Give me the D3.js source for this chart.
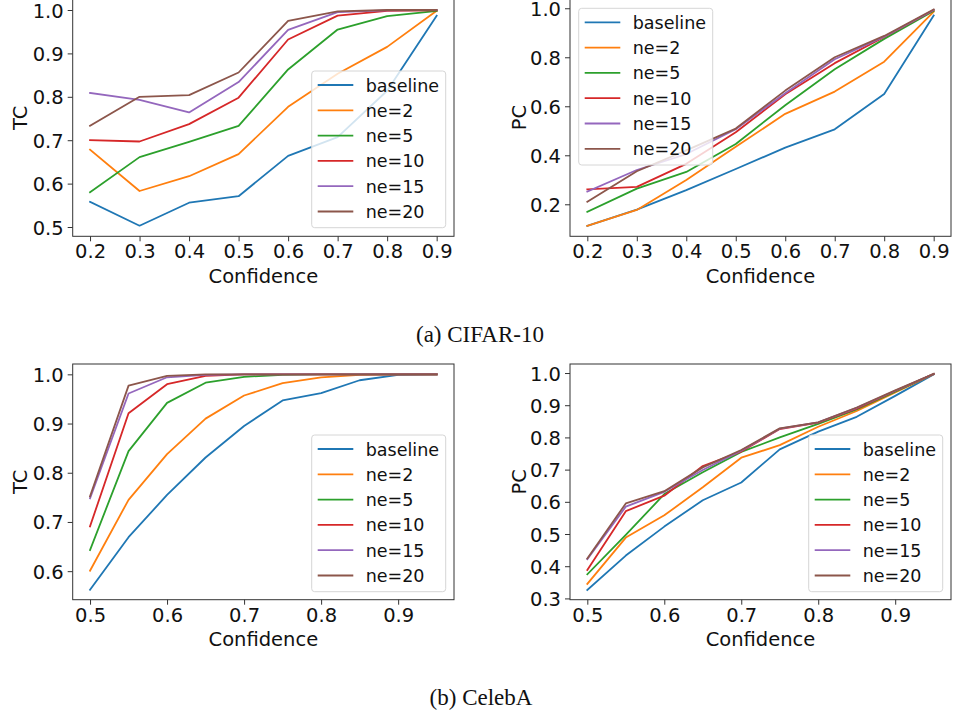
<!DOCTYPE html>
<html>
<head>
<meta charset="utf-8">
<script src="https://cdn.jsdelivr.net/npm/d3@7"></script>
<style>
  html, body { margin: 0; padding: 0; background: #fff; }
  svg { display: block; }
</style>
</head>
<body>
<svg id="fig" width="953" height="717"></svg>
<script>
// ---------------- DATA ----------------
const seriesNames = ["baseline", "ne=2", "ne=5", "ne=10", "ne=15", "ne=20"];
const seriesColors = ["#1f77b4", "#ff7f0e", "#2ca02c", "#d62728", "#9467bd", "#8c564b"];

const xCifar = [0.2, 0.3, 0.4, 0.5, 0.6, 0.7, 0.8, 0.9];
const xCeleb = [0.5, 0.55, 0.6, 0.65, 0.7, 0.75, 0.8, 0.85, 0.9, 0.95];

// CIFAR-10, TC
const cifarTC_baseline = [0.558, 0.503, 0.556, 0.571, 0.664, 0.707, 0.814, 0.987];
const cifarTC_ne2      = [0.678, 0.583, 0.617, 0.668, 0.777, 0.853, 0.915, 0.998];
const cifarTC_ne5      = [0.580, 0.661, 0.696, 0.733, 0.863, 0.955, 0.986, 0.998];
const cifarTC_ne10     = [0.700, 0.697, 0.737, 0.798, 0.932, 0.987, 0.998, 0.999];
const cifarTC_ne15     = [0.809, 0.793, 0.764, 0.834, 0.954, 0.995, 0.999, 1.000];
const cifarTC_ne20     = [0.733, 0.800, 0.804, 0.856, 0.975, 0.997, 1.000, 1.000];

// CIFAR-10, PC
const cifarPC_baseline = [0.112, 0.178, 0.258, 0.344, 0.431, 0.506, 0.650, 0.970];
const cifarPC_ne2      = [0.112, 0.177, 0.299, 0.435, 0.569, 0.660, 0.782, 0.986];
const cifarPC_ne5      = [0.169, 0.264, 0.332, 0.446, 0.604, 0.751, 0.875, 0.989];
const cifarPC_ne10     = [0.261, 0.271, 0.365, 0.494, 0.649, 0.776, 0.883, 0.992];
const cifarPC_ne15     = [0.252, 0.340, 0.405, 0.506, 0.653, 0.792, 0.884, 0.993];
const cifarPC_ne20     = [0.210, 0.335, 0.420, 0.509, 0.664, 0.800, 0.887, 0.995];

// CelebA, TC
const celebTC_baseline = [0.562, 0.669, 0.755, 0.831, 0.895, 0.947, 0.962, 0.988, 0.999, 1.000];
const celebTC_ne2      = [0.601, 0.745, 0.838, 0.910, 0.957, 0.982, 0.994, 0.999, 1.000, 1.000];
const celebTC_ne5      = [0.643, 0.844, 0.942, 0.983, 0.995, 0.999, 1.000, 1.000, 1.000, 1.000];
const celebTC_ne10     = [0.691, 0.921, 0.980, 0.997, 1.000, 1.000, 1.000, 1.000, 1.000, 1.000];
const celebTC_ne15     = [0.748, 0.961, 0.994, 0.999, 1.000, 1.000, 1.000, 1.000, 1.000, 1.000];
const celebTC_ne20     = [0.752, 0.977, 0.997, 1.000, 1.000, 1.000, 1.000, 1.000, 1.000, 1.000];

// CelebA, PC
const celebPC_baseline = [0.326, 0.433, 0.523, 0.605, 0.660, 0.763, 0.818, 0.864, 0.929, 0.996];
const celebPC_ne2      = [0.345, 0.489, 0.558, 0.645, 0.737, 0.776, 0.833, 0.882, 0.940, 0.997];
const celebPC_ne5      = [0.375, 0.497, 0.624, 0.692, 0.755, 0.800, 0.842, 0.887, 0.942, 0.997];
const celebPC_ne10     = [0.388, 0.571, 0.619, 0.711, 0.756, 0.826, 0.846, 0.889, 0.944, 0.997];
const celebPC_ne15     = [0.422, 0.585, 0.631, 0.699, 0.759, 0.827, 0.847, 0.892, 0.945, 0.997];
const celebPC_ne20     = [0.424, 0.595, 0.633, 0.707, 0.761, 0.828, 0.847, 0.893, 0.946, 0.997];

// Tick labels
const xTicksCifar = [0.2, 0.3, 0.4, 0.5, 0.6, 0.7, 0.8, 0.9];
const xTicksCeleb = [0.5, 0.6, 0.7, 0.8, 0.9];
const yTicksCifarTC = [0.5, 0.6, 0.7, 0.8, 0.9, 1.0];
const yTicksCifarPC = [0.2, 0.4, 0.6, 0.8, 1.0];
const yTicksCelebTC = [0.6, 0.7, 0.8, 0.9, 1.0];
const yTicksCelebPC = [0.3, 0.4, 0.5, 0.6, 0.7, 0.8, 0.9, 1.0];

const captions = ["(a) CIFAR-10", "(b) CelebA"];
const xLabel = "Confidence";

// ---------------- LAYOUT ----------------
const FONT = "'DejaVu Sans', sans-serif";
const panels = [
  { x: xCifar, series: [cifarTC_baseline, cifarTC_ne2, cifarTC_ne5, cifarTC_ne10, cifarTC_ne15, cifarTC_ne20],
    xTicks: xTicksCifar, yTicks: yTicksCifarTC, ylabel: "TC",
    box: [72.7, 454, -0.85, 236.3], xd: [0.165, 0.935], yd: [0.4786, 1.025],
    legend: [311.7, 71], ylabX: 26.5 },
  { x: xCifar, series: [cifarPC_baseline, cifarPC_ne2, cifarPC_ne5, cifarPC_ne10, cifarPC_ne15, cifarPC_ne20],
    xTicks: xTicksCifar, yTicks: yTicksCifarPC, ylabel: "PC",
    box: [570, 951, -1.3, 236.3], xd: [0.165, 0.935], yd: [0.0694, 1.039],
    legend: [578.7, 8.3], ylabX: 525.7 },
  { x: xCeleb, series: [celebTC_baseline, celebTC_ne2, celebTC_ne5, celebTC_ne10, celebTC_ne15, celebTC_ne20],
    xTicks: xTicksCeleb, yTicks: yTicksCelebTC, ylabel: "TC",
    box: [72.7, 454, 364, 599.7], xd: [0.4775, 0.9725], yd: [0.542, 1.021],
    legend: [311.7, 435], ylabX: 26.5 },
  { x: xCeleb, series: [celebPC_baseline, celebPC_ne2, celebPC_ne5, celebPC_ne10, celebPC_ne15, celebPC_ne20],
    xTicks: xTicksCeleb, yTicks: yTicksCelebPC, ylabel: "PC",
    box: [570, 951, 364, 599.7], xd: [0.4775, 0.9725], yd: [0.296, 1.028],
    legend: [808.7, 435], ylabX: 525.7 }
];

const svg = d3.select("#fig");
const tickFs = 19.5, labelFs = 19.5, legFs = 17.5;

panels.forEach(p => {
  const [L, R, T, B] = p.box;
  const xs = d3.scaleLinear().domain(p.xd).range([L, R]);
  const ys = d3.scaleLinear().domain(p.yd).range([B, T]);
  const g = svg.append("g");

  // lines
  const line = d3.line().x((d, i) => xs(p.x[i])).y(d => ys(d));
  p.series.forEach((s, k) => {
    g.append("path").datum(s).attr("d", line)
      .attr("fill", "none").attr("stroke", seriesColors[k])
      .attr("stroke-width", 1.8).attr("stroke-linejoin", "round").attr("stroke-linecap", "square");
  });

  // axes
  const xAxis = d3.axisBottom(xs).tickValues(p.xTicks).tickFormat(d3.format(".1f")).tickSize(5).tickPadding(4);
  const yAxis = d3.axisLeft(ys).tickValues(p.yTicks).tickFormat(d3.format(".1f")).tickSize(5).tickPadding(4);
  const gx = g.append("g").attr("transform", `translate(0,${B})`).call(xAxis);
  const gy = g.append("g").attr("transform", `translate(${L},0)`).call(yAxis);
  [gx, gy].forEach(a => {
    a.select(".domain").remove();
    a.selectAll(".tick line").attr("stroke", "#333").attr("stroke-width", 1);
    a.selectAll(".tick text").attr("font-family", FONT).attr("font-size", tickFs).attr("fill", "#111");
  });
  gx.selectAll(".tick text").attr("dy", null).attr("y", 22).attr("dominant-baseline", "auto");
  gy.selectAll(".tick text").attr("dy", null).attr("dominant-baseline", "auto").attr("y", tickFs * 0.36);

  // frame
  g.append("rect").attr("x", L).attr("y", T).attr("width", R - L).attr("height", B - T)
    .attr("fill", "none").attr("stroke", "#333").attr("stroke-width", 1);

  // labels
  g.append("text").attr("x", (L + R) / 2).attr("y", B + 46.3).attr("text-anchor", "middle")
    .attr("font-family", FONT).attr("font-size", labelFs).attr("fill", "#111").text(xLabel);
  g.append("text").attr("transform", `translate(${p.ylabX},${(T + B) / 2}) rotate(-90)`)
    .attr("text-anchor", "middle").attr("font-family", FONT).attr("font-size", labelFs)
    .attr("fill", "#111").text(p.ylabel);

  // legend
  const [lx, ly] = p.legend;
  const lg = g.append("g").attr("transform", `translate(${lx},${ly})`);
  lg.append("rect").attr("width", 134).attr("height", 156.7).attr("rx", 3)
    .attr("fill", "#fff").attr("fill-opacity", 0.8).attr("stroke", "#d6d6d6").attr("stroke-width", 1);
  seriesNames.forEach((n, k) => {
    const yy = 14 + k * 25.3;
    lg.append("line").attr("x1", 6).attr("x2", 41.6).attr("y1", yy).attr("y2", yy)
      .attr("stroke", seriesColors[k]).attr("stroke-width", 1.8);
    lg.append("text").attr("x", 54).attr("y", yy + 6.5).attr("font-family", FONT)
      .attr("font-size", legFs).attr("fill", "#111").text(n);
  });
});

// captions
svg.append("text").attr("x", 480).attr("y", 341.7).attr("text-anchor", "middle")
  .attr("font-family", "'Liberation Serif', 'Times New Roman', serif").attr("font-size", 23)
  .attr("fill", "#111").text(captions[0]);
svg.append("text").attr("x", 481).attr("y", 705).attr("text-anchor", "middle")
  .attr("font-family", "'Liberation Serif', 'Times New Roman', serif").attr("font-size", 23)
  .attr("fill", "#111").text(captions[1]);
</script>
</body>
</html>
